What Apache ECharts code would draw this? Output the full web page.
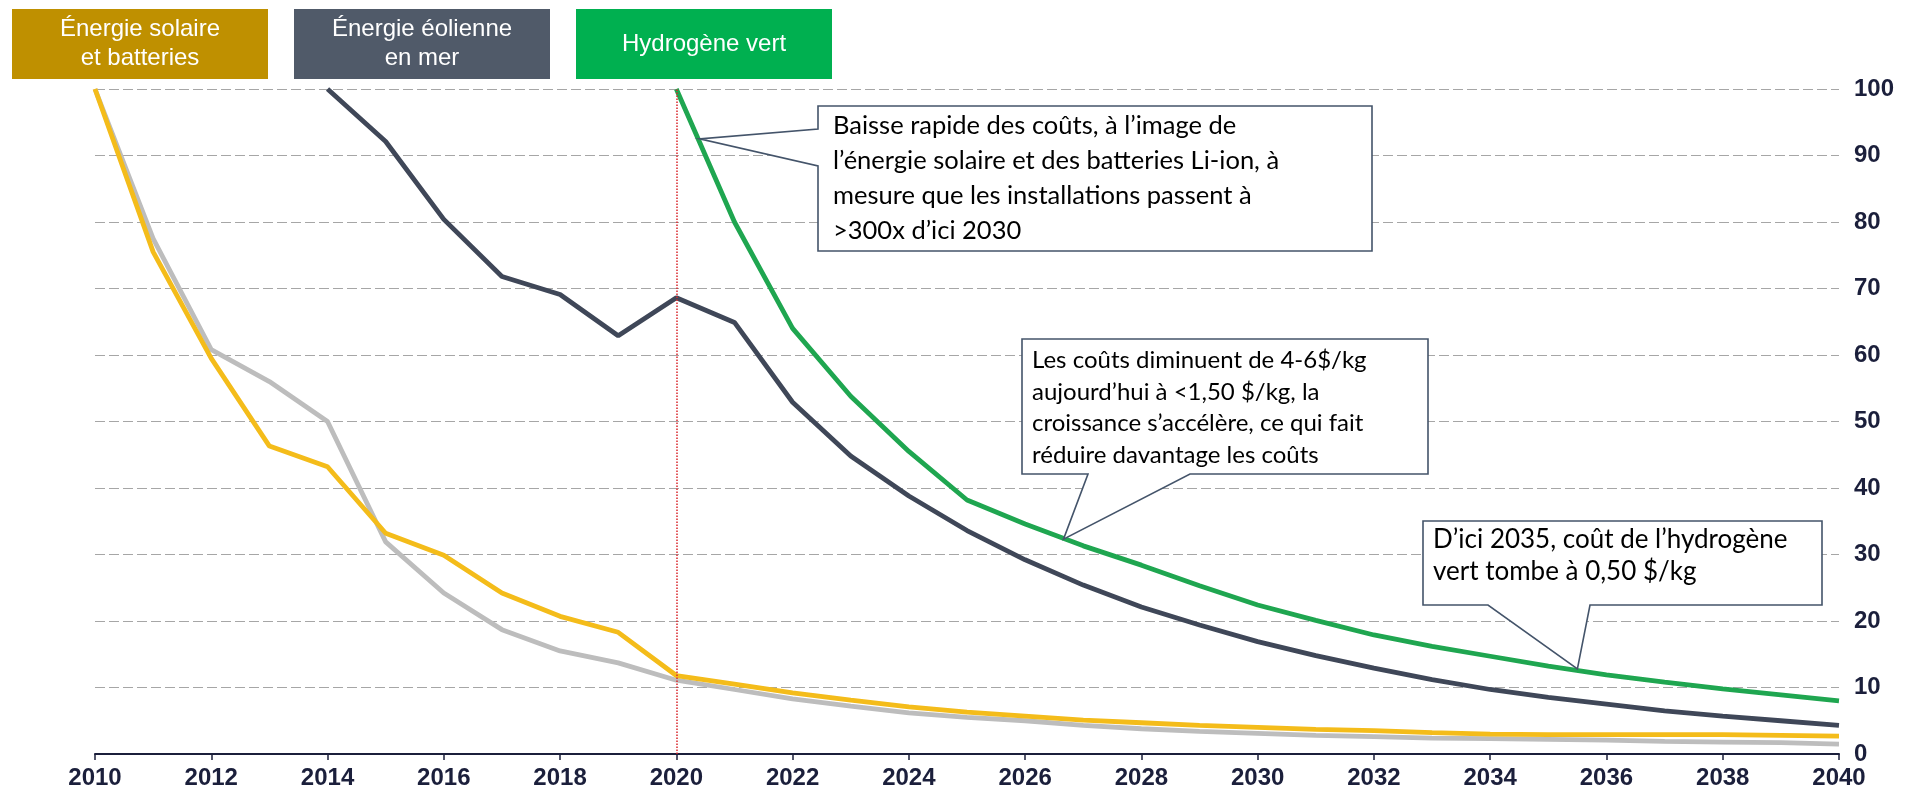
<!DOCTYPE html>
<html>
<head>
<meta charset="utf-8">
<script src="https://cdn.jsdelivr.net/npm/echarts@6/dist/echarts.min.js"></script>
<style>
  html, body { margin: 0; padding: 0; background: #fff; }
  #chart { width: 1908px; height: 797px; }
</style>
</head>
<body>
<div id="chart"></div>
<script>
// années (axe horizontal)
const years = [2010, 2011, 2012, 2013, 2014, 2015, 2016, 2017, 2018, 2019, 2020,
  2021, 2022, 2023, 2024, 2025, 2026, 2027, 2028, 2029, 2030,
  2031, 2032, 2033, 2034, 2035, 2036, 2037, 2038, 2039, 2040]

// indices de coût (première année = 100)
const solaire = [100, 75.5, 59.5, 46.3, 43.2, 33.2, 29.9, 24.2, 20.7, 18.3, 11.8,
  10.5, 9.2, 8.1, 7.1, 6.3, 5.7, 5.1, 4.7, 4.3, 4.0,
  3.7, 3.5, 3.2, 3.0, 2.9, 2.9, 2.9, 2.9, 2.8, 2.7]
const batteries = [100, 77.5, 60.8, 56, 50, 31.9, 24.2, 18.7, 15.5, 13.7, 11.1,
  9.7, 8.3, 7.2, 6.2, 5.5, 5.0, 4.3, 3.8, 3.4, 3.1,
  2.8, 2.6, 2.4, 2.3, 2.2, 2.1, 1.9, 1.8, 1.7, 1.5]
const eolienMer = [null, null, null, null, 100, 92.1, 80.4, 71.8, 69.1, 62.9, 68.6,
  64.9, 52.9, 44.8, 38.8, 33.6, 29.2, 25.4, 22.1, 19.4, 16.9,
  14.8, 12.9, 11.2, 9.7, 8.5, 7.5, 6.5, 5.7, 5.0, 4.3]
const hydrogeneVert = [null, null, null, null, null, null, null, null, null, null, 100,
  80, 64, 53.8, 45.5, 38.2, 34.6, 31.3, 28.4, 25.3, 22.4,
  20.1, 17.9, 16.2, 14.7, 13.2, 11.9, 10.8, 9.8, 8.9, 8.0]

// graduations
const xMin = 2010, xMax = 2040, xStep = 2
const yMin = 0, yMax = 100, yStep = 10
const markYear = 2020

// étiquettes du haut
const legendItems = [
  { text: 'Énergie solaire\net batteries', color: '#BF9000' },
  { text: 'Énergie éolienne\nen mer', color: '#505A69' },
  { text: 'Hydrogène vert', color: '#00B050' }
]

// bulles de commentaire
const callouts = [
  {
    lines: ['Baisse rapide des coûts, à l’image de',
      'l’énergie solaire et des batteries Li-ion, à',
      'mesure que les installations passent à',
      '>300x d’ici 2030'],
    box: [818, 106, 554, 145], side: 'left', base: [129, 166], tip: [2020.4, 92.5],
    font: 25.5, lh: 35, pad: [15, 2]
  },
  {
    lines: ['Les coûts diminuent de 4-6$/kg',
      'aujourd’hui à <1,50 $/kg, la',
      'croissance s’accélère, ce qui fait',
      'réduire davantage les coûts'],
    box: [1022, 339, 406, 135], side: 'bottom', base: [1088, 1190], tip: [2026.66, 32.3],
    font: 24, lh: 31.5, pad: [10, 6]
  },
  {
    lines: ['D’ici 2035, coût de l’hydrogène',
      'vert tombe à 0,50 $/kg'],
    box: [1423, 521, 399, 84], side: 'bottom', base: [1488, 1590], tip: [2035.5, 12.8],
    font: 26, lh: 31.5, pad: [10, 3]
  }
]

const pairs = (arr) => years.map((y, i) => [y, arr[i]])

const lineSeries = (name, arr, color) => ({
  name,
  type: 'line',
  data: pairs(arr),
  symbol: 'none',
  lineStyle: { color, width: 4.8 },
  itemStyle: { color },
  z: 3
})

const chart = echarts.init(document.getElementById('chart'))

const option = {
  animation: false,
  backgroundColor: '#fff',
  grid: { left: 95, right: 69, top: 89, bottom: 43 },
  xAxis: {
    type: 'value',
    min: xMin,
    max: xMax,
    interval: xStep,
    axisLine: { lineStyle: { color: '#1B1F3B', width: 2 } },
    axisTick: { show: true, length: 6, lineStyle: { color: '#1B1F3B', width: 1.5 } },
    splitLine: { show: false },
    axisLabel: {
      formatter: (v) => String(v),
      color: '#1B1F3B',
      fontFamily: 'Liberation Sans, Arial, sans-serif',
      fontWeight: 'bold',
      fontSize: 24,
      margin: 12
    }
  },
  yAxis: {
    type: 'value',
    position: 'right',
    min: yMin,
    max: yMax,
    interval: yStep,
    axisLine: { show: false },
    axisTick: { show: false },
    splitLine: { lineStyle: { color: '#A6A6A6', type: [10, 4], width: 1.2 } },
    axisLabel: {
      color: '#1B1F3B',
      fontFamily: 'Liberation Sans, Arial, sans-serif',
      fontWeight: 'bold',
      fontSize: 24,
      margin: 15,
      align: 'left'
    }
  },
  series: [
    lineSeries('Batteries Li-ion', batteries, '#BDBDBD'),
    lineSeries('Énergie solaire', solaire, '#F4BC1A'),
    lineSeries('Énergie éolienne en mer', eolienMer, '#3F4758'),
    Object.assign(lineSeries('Hydrogène vert', hydrogeneVert, '#1FA650'), {
      markLine: {
        silent: true,
        symbol: 'none',
        label: { show: false },
        lineStyle: { color: '#D9262B', type: 'dotted', width: 1.5 },
        data: [{ xAxis: markYear }]
      }
    })
  ]
}

chart.setOption(option)

// étiquettes + bulles en graphic
const graphics = []
const legendW = 256, legendH = 70, legendGap = 26
legendItems.forEach((item, i) => {
  const x = 12 + i * (legendW + legendGap)
  graphics.push({
    type: 'rect',
    shape: { x, y: 9, width: legendW, height: legendH },
    style: { fill: item.color },
    z: 10
  })
  graphics.push({
    type: 'text',
    style: {
      text: item.text,
      x: x + legendW / 2,
      y: 9 + legendH / 2,
      align: 'center',
      verticalAlign: 'middle',
      fill: '#fff',
      font: '24px "Liberation Sans Narrow", "Liberation Sans", sans-serif',
      lineHeight: 29
    },
    z: 11
  })
})

callouts.forEach((c) => {
  const [bx, by, bw, bh] = c.box
  const tip = chart.convertToPixel({ gridIndex: 0 }, c.tip)
  let pts
  if (c.side === 'left') {
    pts = [[bx, by], [bx + bw, by], [bx + bw, by + bh], [bx, by + bh],
      [bx, c.base[1]], tip, [bx, c.base[0]]]
  } else {
    pts = [[bx, by], [bx + bw, by], [bx + bw, by + bh], [c.base[1], by + bh],
      tip, [c.base[0], by + bh], [bx, by + bh]]
  }
  graphics.push({
    type: 'polygon',
    shape: { points: pts },
    style: { fill: '#fff', stroke: '#44546A', lineWidth: 1.6 },
    z: 20
  })
  graphics.push({
    type: 'text',
    style: {
      text: c.lines.join('\n'),
      x: bx + c.pad[0],
      y: by + c.pad[1],
      verticalAlign: 'top',
      fill: '#000',
      font: c.font + 'px Lato, "Open Sans", sans-serif',
      lineHeight: c.lh
    },
    z: 21
  })
})

chart.setOption({ graphic: graphics })
</script>
</body>
</html>
